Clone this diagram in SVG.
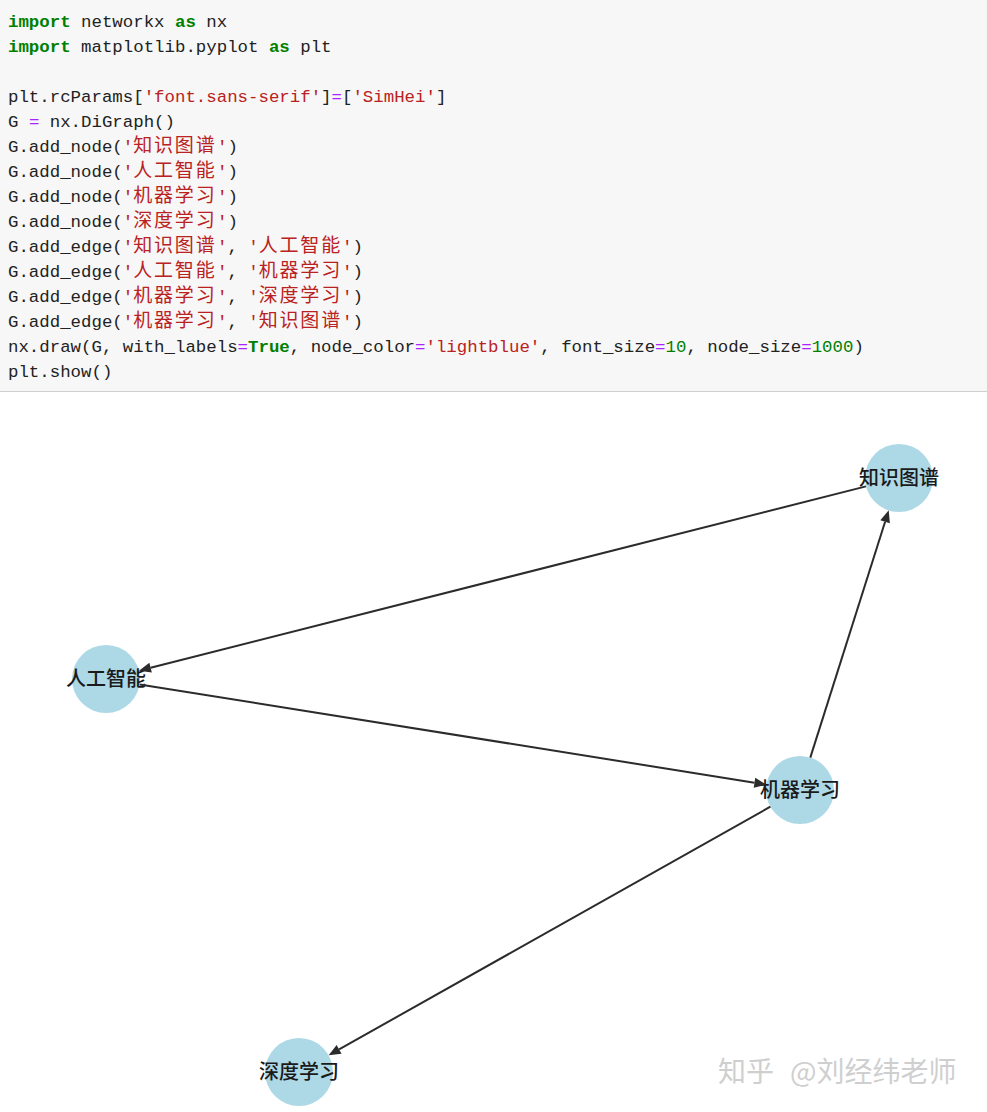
<svg xmlns="http://www.w3.org/2000/svg" width="987" height="1112" viewBox="0 0 987 1112">
<style>
.code{font-family:"Liberation Mono","Noto Sans CJK SC",monospace;font-size:17.4px;fill:#222;white-space:pre}
.kw{fill:#008000;font-weight:bold}
.st{fill:#ba2121}
.op{fill:#aa22ff}
.nu{fill:#008000}
.cj{font-family:"Noto Sans CJK SC",sans-serif;font-size:19px;letter-spacing:1.8px}
.node{fill:#add8e6}
.lbl{font-family:"Noto Sans CJK SC",sans-serif;font-size:20px;font-weight:500;fill:#1a1a1a;text-anchor:middle}
.edge{stroke:#2b2b2b;stroke-width:2;fill:none;marker-end:url(#ah)}
.wm{font-family:"Noto Sans CJK SC",sans-serif;font-size:28px;fill:#cfcfcf}
</style>
<defs>
<marker id="ah" markerUnits="userSpaceOnUse" markerWidth="14" markerHeight="12" refX="0" refY="5" orient="auto" viewBox="0 -1 14 12" overflow="visible">
<path d="M0,0 L12,5 L0,10 Z" fill="#2b2b2b"/>
</marker>
</defs>
<rect x="0" y="0" width="987" height="1112" fill="#ffffff"/>
<g id="code">
<rect x="0" y="0" width="987" height="391" fill="#f7f7f7"/>
<line x1="0" y1="391.5" x2="987" y2="391.5" stroke="#cfcfcf" stroke-width="1"/>
<text class="code" x="8" y="27"><tspan class="kw">import</tspan> networkx <tspan class="kw">as</tspan> nx</text>
<text class="code" x="8" y="52"><tspan class="kw">import</tspan> matplotlib.pyplot <tspan class="kw">as</tspan> plt</text>
<text class="code" x="8" y="102">plt.rcParams[<tspan class="st">'font.sans-serif'</tspan>]<tspan class="op">=</tspan>[<tspan class="st">'SimHei'</tspan>]</text>
<text class="code" x="8" y="127">G <tspan class="op">=</tspan> nx.DiGraph()</text>
<text class="code" x="8" y="152">G.add_node(<tspan class="st">'</tspan><tspan class="st cj">知识图谱</tspan><tspan class="st" x="217">'</tspan>)</text>
<text class="code" x="8" y="177">G.add_node(<tspan class="st">'</tspan><tspan class="st cj">人工智能</tspan><tspan class="st" x="217">'</tspan>)</text>
<text class="code" x="8" y="202">G.add_node(<tspan class="st">'</tspan><tspan class="st cj">机器学习</tspan><tspan class="st" x="217">'</tspan>)</text>
<text class="code" x="8" y="227">G.add_node(<tspan class="st">'</tspan><tspan class="st cj">深度学习</tspan><tspan class="st" x="217">'</tspan>)</text>
<text class="code" x="8" y="252">G.add_edge(<tspan class="st">'</tspan><tspan class="st cj">知识图谱</tspan><tspan class="st" x="217">'</tspan>, <tspan class="st">'</tspan><tspan class="st cj">人工智能</tspan><tspan class="st" x="342">'</tspan>)</text>
<text class="code" x="8" y="277">G.add_edge(<tspan class="st">'</tspan><tspan class="st cj">人工智能</tspan><tspan class="st" x="217">'</tspan>, <tspan class="st">'</tspan><tspan class="st cj">机器学习</tspan><tspan class="st" x="342">'</tspan>)</text>
<text class="code" x="8" y="302">G.add_edge(<tspan class="st">'</tspan><tspan class="st cj">机器学习</tspan><tspan class="st" x="217">'</tspan>, <tspan class="st">'</tspan><tspan class="st cj">深度学习</tspan><tspan class="st" x="342">'</tspan>)</text>
<text class="code" x="8" y="327">G.add_edge(<tspan class="st">'</tspan><tspan class="st cj">机器学习</tspan><tspan class="st" x="217">'</tspan>, <tspan class="st">'</tspan><tspan class="st cj">知识图谱</tspan><tspan class="st" x="342">'</tspan>)</text>
<text class="code" x="8" y="352">nx.draw(G, with_labels<tspan class="op">=</tspan><tspan class="kw">True</tspan>, node_color<tspan class="op">=</tspan><tspan class="st">'lightblue'</tspan>, font_size<tspan class="op">=</tspan><tspan class="nu">10</tspan>, node_size<tspan class="op">=</tspan><tspan class="nu">1000</tspan>)</text>
<text class="code" x="8" y="377">plt.show()</text>
</g>
<g id="node-zhishitupu">
<circle class="node" cx="899" cy="478" r="34"/>
<text class="lbl" x="899" y="485">知识图谱</text>
</g>
<g id="node-rengongzhineng">
<circle class="node" cx="106" cy="679" r="34"/>
<text class="lbl" x="106" y="686">人工智能</text>
</g>
<g id="node-jiqixuexi">
<circle class="node" cx="800" cy="790" r="34"/>
<text class="lbl" x="800" y="797">机器学习</text>
</g>
<g id="node-shenduxuexi">
<circle class="node" cx="299" cy="1072" r="34"/>
<text class="lbl" x="299" y="1079">深度学习</text>
</g>
<g id="edges">
<line class="edge" x1="866" y1="486.4" x2="150.6" y2="667.7"/>
<line class="edge" x1="139.6" y1="684.4" x2="754.5" y2="782.7"/>
<line class="edge" x1="770.4" y1="806.7" x2="339.1" y2="1049.4"/>
<line class="edge" x1="810.3" y1="757.6" x2="885.1" y2="521.8"/>
</g>
<text class="wm" x="718" y="1082">知乎<tspan x="790">@刘经纬老师</tspan></text>
</svg>
